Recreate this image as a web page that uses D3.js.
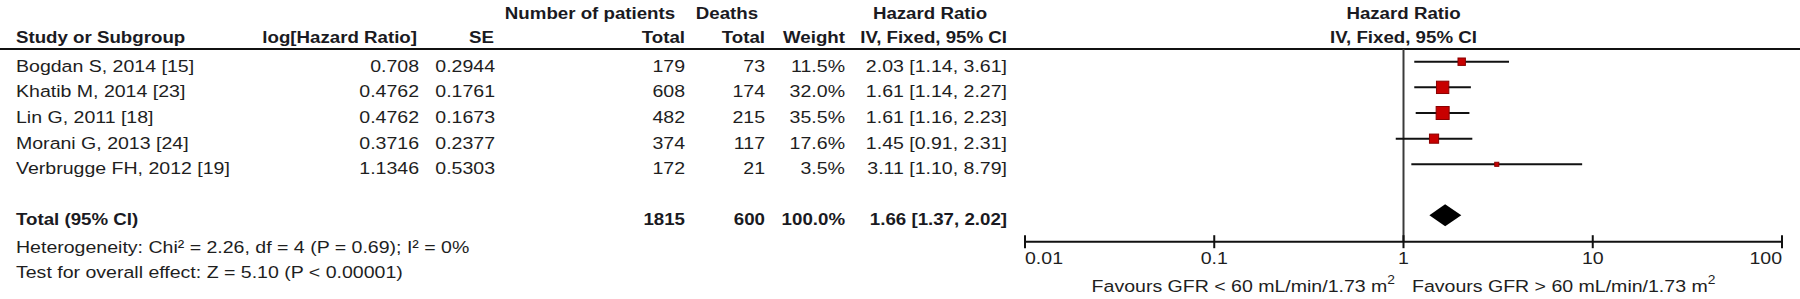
<!DOCTYPE html>
<html>
<head>
<meta charset="utf-8">
<script src="https://cdn.jsdelivr.net/npm/d3@7"></script>
<style>
  body { margin: 0; background: white; }
  text { font-family: "Liberation Sans", Arial, sans-serif; }
</style>
</head>
<body>
<div id="vis"></div>
<script>
const studies = ["Bogdan S, 2014 [15]", "Khatib M, 2014 [23]", "Lin G, 2011 [18]", "Morani G, 2013 [24]", "Verbrugge FH, 2012 [19]"];
const logHR = ["0.708", "0.4762", "0.4762", "0.3716", "1.1346"];
const se = ["0.2944", "0.1761", "0.1673", "0.2377", "0.5303"];
const patients = [179, 608, 482, 374, 172];
const deaths = [73, 174, 215, 117, 21];
const weight = [11.5, 32.0, 35.5, 17.6, 3.5];
const hr = [2.03, 1.61, 1.61, 1.45, 3.11];
const lower = [1.14, 1.14, 1.16, 0.91, 1.10];
const upper = [3.61, 2.27, 2.23, 2.31, 8.79];
const total = { patients: 1815, deaths: 600, weight: 100.0, hr: 1.66, lower: 1.37, upper: 2.02 };
const tickValues = [0.01, 0.1, 1, 10, 100];
const tickLabels = ["0.01", "0.1", "1", "10", "100"];
const heterogeneity = "Heterogeneity: Chi\u00b2 = 2.26, df = 4 (P = 0.69); I\u00b2 = 0%";
const overall = "Test for overall effect: Z = 5.10 (P < 0.00001)";
const favoursLeft = "Favours GFR < 60 mL/min/1.73 m";
const favoursRight = "Favours GFR > 60 mL/min/1.73 m";

const width = 1800, height = 299;
// the picture's text is a bit wider than plain Arial
const stretchReg = 1.15, stretchBold = 1.10;
const f2 = d3.format(".2f"), f1 = d3.format(".1f");

let svg = d3.select("#vis").append("svg")
  .attr("width", width)
  .attr("height", height);

let x = d3.scaleLog().domain([0.01, 100]).range([1025, 1782]);
let y = d3.scaleLinear().domain([0, studies.length - 1]).range([61.7, 164.3]);
let size = d3.scaleSqrt().domain([0, 35.5]).range([0, 13]);
const yTotal = 215.3, yAxis = 241.7;

function txt(px, py, str, anchor, bold, fs) {
  return svg.append("text")
    .attr("transform", "translate(" + px + "," + py + ")scale(" + (bold ? stretchBold : stretchReg) + ",1)")
    .attr("text-anchor", anchor || "start")
    .style("font-size", (fs || 17) + "px")
    .style("font-weight", bold ? "bold" : "normal")
    .attr("fill", bold ? "#1a1a22" : "#1e1e1e")
    .text(str);
}

// header
txt(590, 19, "Number of patients", "middle", true);
txt(727, 19, "Deaths", "middle", true);
txt(930, 19, "Hazard Ratio", "middle", true);
txt(x(1), 19, "Hazard Ratio", "middle", true);
txt(16, 43, "Study or Subgroup", "start", true);
txt(417, 43, "log[Hazard Ratio]", "end", true);
txt(494, 43, "SE", "end", true);
txt(685, 43, "Total", "end", true);
txt(765, 43, "Total", "end", true);
txt(845, 43, "Weight", "end", true);
txt(1007, 43, "IV, Fixed, 95% CI", "end", true);
txt(x(1), 43, "IV, Fixed, 95% CI", "middle", true);

svg.append("line")
  .attr("x1", 0).attr("x2", width)
  .attr("y1", 49).attr("y2", 49)
  .attr("stroke", "#111")
  .style("stroke-width", "2px");

// study rows
studies.forEach(function (s, i) {
  let by = y(i) + 10;
  txt(16, by, s, "start");
  txt(419, by, logHR[i], "end");
  txt(495, by, se[i], "end");
  txt(685, by, patients[i], "end");
  txt(765, by, deaths[i], "end");
  txt(845, by, f1(weight[i]) + "%", "end");
  txt(1007, by, f2(hr[i]) + " [" + f2(lower[i]) + ", " + f2(upper[i]) + "]", "end");
});

let tb = yTotal + 10;
txt(16, tb, "Total (95% CI)", "start", true);
txt(685, tb, total.patients, "end", true);
txt(765, tb, total.deaths, "end", true);
txt(845, tb, f1(total.weight) + "%", "end", true);
txt(1007, tb, f2(total.hr) + " [" + f2(total.lower) + ", " + f2(total.upper) + "]", "end", true);
txt(16, 253, heterogeneity, "start");
txt(16, 278, overall, "start");

// line of no effect
svg.append("line")
  .attr("x1", x(1)).attr("x2", x(1))
  .attr("y1", 49).attr("y2", yAxis)
  .attr("stroke", "#3a3a3a")
  .style("stroke-width", "2px");

// confidence intervals and squares
svg.selectAll("line.ci")
  .data(d3.range(studies.length))
  .enter().append("line")
  .attr("class", "ci")
  .attr("x1", function (i) { return x(lower[i]); })
  .attr("x2", function (i) { return x(upper[i]); })
  .attr("y1", function (i) { return y(i); })
  .attr("y2", function (i) { return y(i); })
  .attr("stroke", "#111")
  .style("stroke-width", "2px");

svg.selectAll("rect.box")
  .data(d3.range(studies.length))
  .enter().append("rect")
  .attr("class", "box")
  .attr("x", function (i) { return x(hr[i]) - Math.max(size(weight[i]), 4) / 2; })
  .attr("y", function (i) { return y(i) - Math.max(size(weight[i]), 4) / 2; })
  .attr("width", function (i) { return Math.max(size(weight[i]), 4); })
  .attr("height", function (i) { return Math.max(size(weight[i]), 4); })
  .attr("fill", "#c80000")
  .attr("stroke", "#8a0000")
  .style("stroke-width", "1px");

// pooled diamond
svg.append("polygon")
  .attr("points", [
    [x(total.lower), yTotal],
    [x(total.hr), yTotal - 11],
    [x(total.upper), yTotal],
    [x(total.hr), yTotal + 11]
  ].join(" "))
  .attr("fill", "black");

// axis
svg.append("line")
  .attr("x1", x(0.01)).attr("x2", x(100))
  .attr("y1", yAxis).attr("y2", yAxis)
  .attr("stroke", "#111")
  .style("stroke-width", "2px");

svg.selectAll("line.tick")
  .data(tickValues)
  .enter().append("line")
  .attr("class", "tick")
  .attr("x1", function (d) { return x(d); })
  .attr("x2", function (d) { return x(d); })
  .attr("y1", yAxis - 6.5)
  .attr("y2", yAxis + 6.5)
  .attr("stroke", "#111")
  .style("stroke-width", "2px");

tickValues.forEach(function (d, i) {
  let anchor = i === 0 ? "start" : (i === tickValues.length - 1 ? "end" : "middle");
  txt(x(d), 264, tickLabels[i], anchor);
});

// favours labels with superscript 2
function favours(px, str, anchor) {
  let t = txt(px, 292, "", anchor);
  t.append("tspan").text(str);
  t.append("tspan").attr("dy", -8).style("font-size", "12px").text("2");
}
favours(1395, favoursLeft, "end");
favours(1412, favoursRight, "start");
</script>
</body>
</html>
